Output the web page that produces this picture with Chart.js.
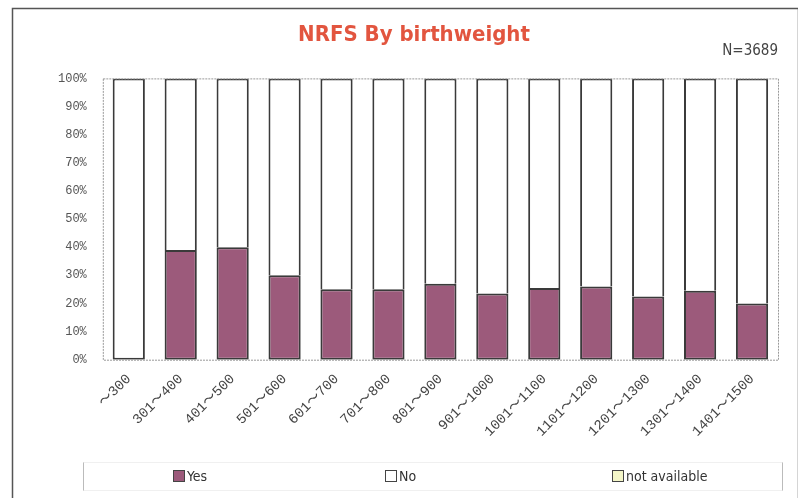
<!DOCTYPE html>
<html>
<head>
<meta charset="utf-8">
<script src="https://cdn.jsdelivr.net/npm/chart.js@4/dist/chart.umd.min.js"></script>
<style>
  html, body { margin: 0; padding: 0; background: #fff; }
  #wrap { width: 798px; height: 498px; position: relative; }
  #legend {
    position: absolute; left: 83px; top: 462px; width: 698px; height: 27px;
    border-left: 1px solid #bbb; border-right: 1px solid #bbb;
    border-top: 1px solid #f0f0f0; border-bottom: 1px solid #f0f0f0;
    font: 14px "DejaVu Sans Condensed", sans-serif; color: #333;
  }
  #legend span { position: absolute; top: 6px; line-height: 15px; white-space: nowrap; }
  #legend i {
    display: inline-block; width: 10px; height: 10px; border: 1px solid #444;
    vertical-align: -1px; margin-right: 2px;
  }
</style>
</head>
<body>
<div id="wrap">
  <canvas id="nrfsChart"></canvas>
  <div id="legend"></div>
</div>
<script>
const weightGroups = ["〜300", "301〜400", "401〜500", "501〜600", "601〜700", "701〜800", "801〜900",
  "901〜1000", "1001〜1100", "1101〜1200", "1201〜1300", "1301〜1400", "1401〜1500"];
const yesPct = [0, 39, 40, 30, 25, 25, 27, 23.5, 25.5, 26, 22.5, 24.5, 20];
const noPct = [100, 61, 60, 70, 75, 75, 73, 76.5, 74.5, 74, 77.5, 75.5, 80];
const naPct = [0, 0, 0, 0, 0, 0, 0, 0, 0, 0, 0, 0, 0];
const yTicks = [0, 10, 20, 30, 40, 50, 60, 70, 80, 90, 100];
const seriesNames = ["Yes", "No", "not available"];
const seriesColors = ["#9c5a7b", "#ffffff", "#f4f6c8"];
const legendLeft = [89, 301, 528];

// outer frame and dotted plot border
const framePlugin = {
  id: "frame",
  beforeDraw(chart) {
    const c = chart.ctx;
    c.save();
    c.fillStyle = "#fff";
    c.fillRect(0, 0, chart.width, chart.height);
    c.strokeStyle = "#555";
    c.lineWidth = 1.5;
    c.strokeRect(12.5, 8.5, 786, 500);
    c.restore();
  },
  afterDraw(chart) {
    const c = chart.ctx, a = chart.chartArea;
    c.save();
    c.strokeStyle = "#999";
    c.lineWidth = 1;
    c.setLineDash([2, 1]);
    c.strokeRect(a.left + 0.5, a.top + 0.5, a.right - a.left, a.bottom - a.top);
    c.restore();
  }
};

const barStyle = { borderColor: "#3a3a3a", barPercentage: 0.62, categoryPercentage: 1 };
// upper segments skip their base edge so the joins stay one line thick;
// a "No" segment sitting on an empty "Yes" keeps its own bottom edge
const skipEdge = [
  false,
  ctx => (yesPct[ctx.dataIndex] > 0 ? "start" : false),
  "start"
];
const edgeWidth = [2, 2, 0];

const chart = new Chart(document.getElementById("nrfsChart"), {
  type: "bar",
  data: {
    labels: weightGroups,
    datasets: [yesPct, noPct, naPct].map((d, i) => ({
      label: seriesNames[i], data: d, backgroundColor: seriesColors[i], ...barStyle,
      borderSkipped: skipEdge[i], borderWidth: edgeWidth[i]
    }))
  },
  options: {
    responsive: true,
    maintainAspectRatio: false,
    animation: false,
    layout: { padding: { left: 50, right: 20, top: 22, bottom: 55 } },
    scales: {
      x: {
        stacked: true,
        grid: { display: false },
        border: { display: false },
        ticks: {
          minRotation: 45, maxRotation: 45, color: "#444",
          font: { family: "Liberation Mono, Noto Sans CJK JP", size: 14 }
        }
      },
      y: {
        stacked: true,
        min: 0, max: 100,
        afterBuildTicks: axis => { axis.ticks = yTicks.map(v => ({ value: v })); },
        grid: { display: false },
        border: { display: false },
        ticks: {
          color: "#555", padding: 8, autoSkip: false,
          font: { family: "Liberation Mono", size: 12 },
          callback: v => v + "%"
        }
      }
    },
    plugins: {
      title: {
        display: true,
        text: "NRFS By birthweight",
        color: "#e2553f",
        font: { family: "DejaVu Sans Condensed", size: 22, weight: "bold" },
        padding: { top: 0, bottom: -6 }
      },
      subtitle: {
        display: true,
        text: "N=3689",
        align: "end",
        color: "#444",
        font: { family: "DejaVu Sans Condensed", size: 15 },
        padding: { top: 0, bottom: 18 }
      },
      legend: { display: false },
      tooltip: { enabled: false }
    }
  },
  plugins: [framePlugin]
});

// legend row under the chart, from the same dataset names and colours
const legendEl = document.getElementById("legend");
chart.data.datasets.forEach((ds, i) => {
  const item = document.createElement("span");
  item.style.left = legendLeft[i] + "px";
  const box = document.createElement("i");
  box.style.background = ds.backgroundColor;
  item.appendChild(box);
  item.appendChild(document.createTextNode(ds.label));
  legendEl.appendChild(item);
});
</script>
</body>
</html>
